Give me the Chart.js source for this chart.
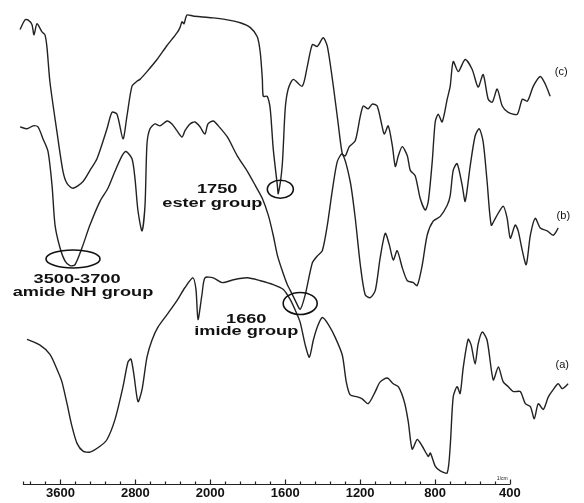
<!DOCTYPE html>
<html>
<head>
<meta charset="utf-8">
<script src="https://cdn.jsdelivr.net/npm/chart.js@4.4.1/dist/chart.umd.min.js"></script>
<style>
  html, body { margin: 0; padding: 0; background: #fff; }
  canvas { display: block; }
</style>
</head>
<body>
<canvas id="irChart" width="584" height="503"></canvas>
<script>
// tick labels on the wavenumber axis (cm-1), equally spaced on the plot
const xTicks = [3600, 2800, 2000, 1600, 1200, 800, 400];

// spectrum (c)
const cWave = [4032,3979,3947,3904,3883,3850,3797,3765,3744,3712,3637,3573,3530,3466,3359,3285,3210,3103,3050,2996,
  2932,2890,2836,2783,2751,2676,2569,2462,2356,2324,2302,2281,2249,2185,2078,1984,1909,1840,1786,1749,
  1733,1722,1717,1696,1680,1664,1642,1637,1616,1600,1584,1557,1509,1482,1455,1429,1397,1375,1343,1317,
  1295,1279,1258,1226,1199,1183,1157,1135,1109,1082,1071,1050,1028,1012,996,975,948,932,906,879,
  852,836,815,799,783,762,735,719,703,676,639,602,570,543,516,494,468,441,409,361,
  334,307,275,238,211,185];
const cTrans = [93.9,95.9,95.9,94.9,92.8,95.1,93.4,92.8,90.2,83.0,72.7,64.6,62.1,61.1,62.5,64.8,67.2,73.4,76.8,76.4,
  71.3,76.0,82.2,83.2,83.6,85.2,87.7,90.6,93.2,94.3,95.5,95.1,96.9,96.7,96.5,96.3,95.9,95.3,94.3,92.4,
  89.1,83.6,80.1,80.1,77.5,69.3,61.7,60.0,65.8,77.5,81.6,83.6,82.2,86.3,90.8,90.4,92.2,90.4,82.2,74.4,
  68.2,67.8,69.7,70.9,76.0,78.1,77.5,78.5,78.1,73.8,72.3,74.0,69.9,65.6,67.8,69.7,67.8,64.8,63.7,59.0,
  56.6,58.4,66.6,74.8,76.4,74.8,79.5,82.2,87.3,85.2,87.7,85.7,82.0,84.6,79.5,78.9,81.6,78.1,76.8,76.4,
  79.5,79.1,82.2,84.2,82.6,80.1];

// spectrum (b)
const bWave = [4032,3957,3893,3840,3786,3733,3690,3658,3605,3552,3498,3445,3370,3285,3178,3093,3018,2943,2900,2836,
  2804,2772,2729,2697,2676,2644,2591,2537,2462,2409,2356,2302,2270,2217,2163,2110,2057,2025,1984,1957,
  1909,1856,1802,1760,1722,1690,1664,1642,1616,1589,1573,1546,1520,1493,1455,1429,1402,1375,1349,1322,
  1295,1253,1226,1199,1173,1146,1119,1093,1066,1044,1023,1002,975,948,916,895,868,842,810,772,
  735,719,703,682,655,639,612,586,564,543,522,500,478,436,415,398,372,356,334,313,
  291,265,238,201,169,142];
const bTrans = [73.8,73.4,74.0,73.8,71.3,68.7,61.7,53.5,48.8,46.1,45.1,45.3,48.8,53.5,58.4,61.1,64.6,67.8,68.7,67.2,
  63.1,56.4,52.3,57.6,70.3,73.4,74.4,74.0,75.0,74.4,73.0,71.7,73.0,74.4,74.8,73.8,72.3,74.4,75.0,74.0,
  71.7,67.8,64.6,61.7,59.0,55.5,51.4,47.3,44.1,41.2,40.0,37.9,36.1,39.1,45.7,47.1,48.2,53.5,60.5,66.6,
  68.2,62.5,54.9,45.3,39.1,38.5,40.0,46.7,51.8,49.4,46.3,48.2,44.7,42.0,41.6,41.0,45.3,51.4,54.3,55.3,
  57.6,59.6,64.8,66.2,61.7,58.4,65.8,71.9,73.4,70.7,62.5,53.5,54.9,57.4,54.9,50.8,53.5,52.3,48.2,45.3,
  51.4,54.9,52.9,52.3,51.4,52.9];

// spectrum (a)
const aWave = [3957,3818,3712,3626,3584,3530,3477,3423,3359,3285,3178,3103,3018,2932,2879,2847,2815,2772,2729,2676,
  2623,2559,2462,2356,2270,2185,2153,2131,2089,2057,1984,1936,1877,1802,1733,1664,1610,1573,1546,1520,
  1493,1471,1450,1429,1402,1370,1333,1295,1274,1253,1215,1189,1157,1119,1093,1055,1023,996,964,943,
  922,895,868,836,825,799,772,735,719,703,682,666,649,623,607,586,570,548,522,489,
  462,436,409,382,345,318,291,270,249,222,195,169,142,121,89];
const aTrans = [29.9,28.7,26.8,23.2,21.1,16.6,11.9,8.4,6.8,6.6,7.8,9.2,13.3,20.1,25.2,25.8,22.5,17.0,19.5,26.2,
  29.7,32.4,35.0,37.9,40.6,42.6,40.2,34.0,39.1,42.6,42.6,41.6,42.2,42.6,42.0,41.2,40.2,38.1,35.9,33.4,
  28.7,26.2,29.7,32.4,34.4,33.0,30.3,26.6,21.1,18.4,18.0,17.6,16.6,19.1,21.1,21.9,20.7,20.1,17.0,12.9,
  7.2,9.2,7.8,5.7,6.4,3.7,2.7,2.3,7.8,18.0,20.1,18.7,24.2,29.9,28.7,24.8,28.9,31.4,29.7,21.5,
  24.2,21.1,20.1,19.1,19.1,16.6,16.0,13.5,16.6,15.4,18.0,19.5,20.7,19.7,20.7];

// piecewise axis: each labelled interval gets the same width
function toU(wn) {
    const k = xTicks;
    if (wn >= k[1]) return (k[0] - wn) / (k[0] - k[1]);
    for (let i = 1; i < k.length - 1; i++) {
        if (wn >= k[i + 1]) return i + (k[i] - wn) / (k[i] - k[i + 1]);
    }
    const n = k.length - 1;
    return n + (k[n] - wn) / (k[n - 1] - k[n]);
}
function fromU(u) {
    const k = xTicks, n = k.length - 1;
    const i = Math.max(0, Math.min(n - 1, Math.floor(u)));
    return k[i] - (u - i) * (k[i] - k[i + 1]);
}

class WavenumberScale extends Chart.LinearScale {
    static id = 'wavenumber';
    static defaults = Chart.LinearScale.defaults;
    buildTicks() {
        const ticks = [{value: 4000}, {value: 3920}, {value: 3760}];
        for (let i = 0; i < xTicks.length - 1; i++) {
            const step = (xTicks[i] - xTicks[i + 1]) / 5;
            ticks.push({value: xTicks[i]});
            for (let j = 1; j < 5; j++) ticks.push({value: xTicks[i] - j * step});
        }
        ticks.push({value: xTicks[xTicks.length - 1]});
        return ticks;
    }
    getPixelForValue(value) {
        const u0 = toU(this.max), u1 = toU(this.min);
        return this.getPixelForDecimal((toU(value) - u0) / (u1 - u0));
    }
    getValueForPixel(pixel) {
        const u0 = toU(this.max), u1 = toU(this.min);
        return fromU(u0 + this.getDecimalForPixel(pixel) * (u1 - u0));
    }
}
Chart.register(WavenumberScale);

const circles = [
    {wn: 1626, t: 60.9, rx: 13, ry: 9},
    {wn: 3466, t: 46.5, rx: 27, ry: 9},
    {wn: 1520, t: 37.3, rx: 17, ry: 11}
];
const notes = [
    {text: '1750', wn: 1963, t: 60.9},
    {text: 'ester group', wn: 1989, t: 58.0},
    {text: '3500-3700', wn: 3423, t: 42.2},
    {text: 'amide NH group', wn: 3359, t: 39.5},
    {text: '1660', wn: 1808, t: 34.0},
    {text: 'imide group', wn: 1808, t: 31.6}
];
const tags = [
    {text: '(c)', wn: 126, t: 85.2},
    {text: '(b)', wn: 115, t: 55.3},
    {text: '(a)', wn: 121, t: 24.6}
];

const decor = {
    id: 'decor',
    afterDraw(chart) {
        const {ctx, chartArea, scales: {x, y}} = chart;
        const yb = Math.round(chartArea.bottom) + 0.5;
        ctx.save();
        ctx.strokeStyle = '#222';
        ctx.lineWidth = 1.2;
        ctx.beginPath();
        ctx.moveTo(x.getPixelForValue(4000), yb);
        ctx.lineTo(x.getPixelForValue(400), yb);
        x.ticks.forEach(t => {
            const px = Math.round(x.getPixelForValue(t.value)) + 0.5;
            ctx.moveTo(px, yb);
            ctx.lineTo(px, yb - (xTicks.includes(t.value) ? 5 : 3));
        });
        ctx.stroke();

        ctx.lineWidth = 1.6;
        ctx.strokeStyle = '#111';
        circles.forEach(c => {
            ctx.beginPath();
            ctx.ellipse(x.getPixelForValue(c.wn), y.getPixelForValue(c.t), c.rx, c.ry, 0, 0, Math.PI * 2);
            ctx.stroke();
        });

        ctx.fillStyle = '#111';
        ctx.textAlign = 'center';
        ctx.textBaseline = 'middle';
        ctx.font = 'bold 13px "Liberation Sans", Arial, sans-serif';
        notes.forEach(n => {
            ctx.save();
            ctx.translate(x.getPixelForValue(n.wn), y.getPixelForValue(n.t));
            ctx.scale(1.4, 1);
            ctx.fillText(n.text, 0, 0);
            ctx.restore();
        });

        ctx.font = '11px "Liberation Sans", Arial, sans-serif';
        tags.forEach(g => ctx.fillText(g.text, x.getPixelForValue(g.wn), y.getPixelForValue(g.t)));

        ctx.font = '5px "Liberation Sans", Arial, sans-serif';
        ctx.fillText('1/cm', x.getPixelForValue(441), y.getPixelForValue(1.2));
        ctx.restore();
    }
};

function series(wave, trans) {
    return {
        data: wave.map((w, i) => ({x: w, y: trans[i]})),
        borderColor: '#222',
        borderWidth: 1.4,
        pointRadius: 0,
        tension: 0.25,
        clip: false,
        fill: false
    };
}

new Chart(document.getElementById('irChart').getContext('2d'), {
    type: 'line',
    data: {
        datasets: [series(cWave, cTrans), series(bWave, bTrans), series(aWave, aTrans)]
    },
    options: {
        responsive: false,
        animation: false,
        layout: {padding: {left: 23, right: 8.5, top: 0, bottom: 0}},
        plugins: {legend: {display: false}, tooltip: {enabled: false}},
        scales: {
            x: {
                type: 'wavenumber',
                min: 50,
                max: 4000,
                grid: {display: false, drawTicks: false},
                border: {display: false},
                ticks: {
                    autoSkip: false,
                    maxRotation: 0,
                    minRotation: 0,
                    padding: 3,
                    color: '#111',
                    font: {family: '"Liberation Sans", Arial, sans-serif', size: 13, weight: 'bold', lineHeight: 1},
                    callback: v => xTicks.includes(v) ? String(v) : ''
                }
            },
            y: {type: 'linear', min: 0, max: 100, display: false}
        }
    },
    plugins: [decor]
});
</script>
</body>
</html>
